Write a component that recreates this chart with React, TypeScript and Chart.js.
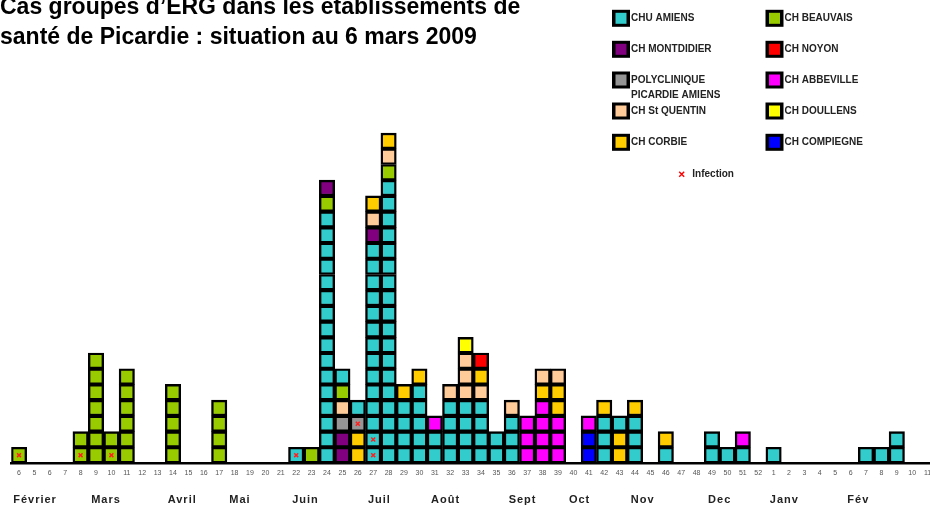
import React, { useEffect, useRef } from 'react';
import { Chart, registerables } from 'chart.js';

Chart.register(...registerables);

const FONT = '"Liberation Sans", Arial, sans-serif';

// Week tick labels (2008 weeks then 2009 weeks), as printed on the chart
const weekLabels = [
  '6', '5', '6', '7', '8', '9', '10', '11', '12', '13', '14', '15', '16', '17', '18', '19', '20', '21', '22', '23',
  '24', '25', '26', '27', '28', '29', '30', '31', '32', '33', '34', '35', '36', '37', '38', '39', '40', '41', '42', '43',
  '44', '45', '46', '47', '48', '49', '50', '51', '52', '1', '2', '3', '4', '5', '6', '7', '8', '9', '10', '11',
];

// Cases per week, stacked bottom-up; one letter = one case (hospital code),
// lowercase letter = case with infection.
const weekCases = [
  'b', '', '', '', 'bB', 'BBBBBBB', 'bB', 'BBBBBB', '', '', 'BBBBB', '', '', 'BBBB', '', '', '', '', 'a', 'B',
  'AAAAAAAAAAAAAAAABM', 'MMPQBA', 'CCpA', 'aaAAAAAAAAAAAAMQC', 'AAAAAAAAAAAAAAAAAABQC', 'AAAAC', 'AAAAAC', 'AAV', 'AAAAQ', 'AAAAQQQD',
  'AAAAQCN', 'AA', 'AAAQ', 'VVV', 'VVVVCQ', 'VVVCCQ', '', 'GGV', 'AAAC', 'CCA',
  'AAAC', '', 'AC', '', '', 'AA', 'A', 'AV', '', 'A', '', '', '', '', '', 'A', 'A', 'AA', '', '',
];

const hospitalCodes = ['A', 'B', 'M', 'N', 'P', 'V', 'Q', 'D', 'C', 'G'];
const hospitalNames = [
  ['CHU AMIENS'], ['CH BEAUVAIS'], ['CH MONTDIDIER'], ['CH NOYON'], ['POLYCLINIQUE', 'PICARDIE AMIENS'],
  ['CH ABBEVILLE'], ['CH St QUENTIN'], ['CH DOULLENS'], ['CH CORBIE'], ['CH COMPIEGNE'],
];
const hospitalColors = ['#33CCCC', '#99CC00', '#800080', '#FF0000', '#969696', '#FF00FF', '#FFCC99', '#FFFF00', '#FFCC00', '#0000FF'];

const monthNames = ['Février', 'Mars', 'Avril', 'Mai', 'Juin', 'Juil', 'Août', 'Sept', 'Oct', 'Nov', 'Dec', 'Janv', 'Fév'];
// position of each month label along the week axis (category index)
const monthAnchors = [1.04, 5.65, 10.6, 14.35, 18.6, 23.4, 27.7, 32.7, 36.4, 40.5, 45.5, 49.7, 54.5];

const titleLines = ['Cas groupés d’ERG dans les établissements de', 'santé de Picardie : situation au 6 mars 2009'];
const infectionLabel = 'Infection';

const colorOf = (ch: string) => hospitalColors[hospitalCodes.indexOf(ch.toUpperCase())];

const decorPlugin = {
  id: 'decor',
  afterDraw(chart: any) {
    const ctx = chart.ctx as CanvasRenderingContext2D;
    const xs = chart.scales.x;
    ctx.save();
    // title
    ctx.fillStyle = '#000';
    ctx.textAlign = 'left';
    ctx.textBaseline = 'alphabetic';
    ctx.font = `bold 23px ${FONT}`;
    titleLines.forEach((t, i) => ctx.fillText(t, 0, 14 + i * 30));

    // legend
    const colX = [621, 774.5];
    const rowY = [18.3, 49.3, 80, 111, 142.3];
    ctx.font = `bold 10px ${FONT}`;
    ctx.textBaseline = 'middle';
    hospitalNames.forEach((lines, i) => {
      const cx = colX[i % 2];
      const cy = rowY[Math.floor(i / 2)];
      ctx.fillStyle = '#000';
      ctx.fillRect(cx - 9, cy - 8.5, 18, 17);
      ctx.fillStyle = hospitalColors[i];
      ctx.fillRect(cx - 5.5, cy - 5.5, 11, 11);
      ctx.fillStyle = '#222';
      lines.forEach((l, j) => ctx.fillText(l, cx + 10, cy + j * 15.7));
    });
    // infection legend
    ctx.strokeStyle = '#f00';
    ctx.lineWidth = 1.4;
    const ix = 681.7, iy = 174.3;
    ctx.beginPath();
    ctx.moveTo(ix - 2.5, iy - 2.5); ctx.lineTo(ix + 2.5, iy + 2.5);
    ctx.moveTo(ix + 2.5, iy - 2.5); ctx.lineTo(ix - 2.5, iy + 2.5);
    ctx.stroke();
    ctx.fillStyle = '#222';
    ctx.fillText(infectionLabel, 692.3, iy);

    // month labels
    ctx.font = `bold 11px ${FONT}`;
    ctx.textAlign = 'center';
    ctx.fillStyle = '#222';
    (ctx as any).letterSpacing = '1px';
    monthNames.forEach((m, i) => {
      ctx.fillText(m, xs.getPixelForValue(monthAnchors[i]), 500);
    });
    ctx.restore();
  },
};

export default function App() {
  const ref = useRef<HTMLCanvasElement>(null);
  useEffect(() => {
    if (!ref.current) return;
    const maxLevel = Math.max(...weekCases.map((s) => s.length));
    const barSets: any[] = [];
    for (let k = 0; k < maxLevel; k++) {
      barSets.push({
        type: 'bar',
        label: 'level' + k,
        data: weekCases.map((s) => (s.length > k ? 1 : null)),
        backgroundColor: weekCases.map((s) => (s.length > k ? colorOf(s[k]) : 'rgba(0,0,0,0)')),
        borderColor: '#000',
        borderWidth: 2.4,
        borderSkipped: false,
        barPercentage: 1,
        categoryPercentage: 1,
        yAxisID: 'y',
        order: 2,
      });
    }
    const infSets: any[] = [];
    for (let k = 0; k < maxLevel; k++) {
      const data = weekCases.map((s) => (s.length > k && s[k] !== s[k].toUpperCase() ? k + 0.5 : null));
      if (data.some((v) => v !== null)) {
        infSets.push({
          type: 'line',
          label: 'inf' + k,
          data,
          showLine: false,
          pointStyle: 'crossRot',
          pointRadius: 2.8,
          pointBorderColor: '#ff2020',
          pointBackgroundColor: '#ff2020',
          pointBorderWidth: 1.5,
          yAxisID: 'yInf',
          order: 1,
        });
      }
    }
    const yMax = 29.12;
    const chart = new Chart(ref.current, {
      type: 'bar',
      data: { labels: weekLabels, datasets: [...barSets, ...infSets] },
      options: {
        responsive: false,
        animation: false,
        devicePixelRatio: 1,
        layout: { padding: { left: 11.3, right: 9.7, top: 0, bottom: 0 } },
        plugins: { legend: { display: false }, tooltip: { enabled: false }, title: { display: false } },
        scales: {
          x: {
            type: 'category',
            stacked: true,
            offset: true,
            grid: { display: false, drawTicks: false },
            border: { display: true, color: '#000', width: 2.5 },
            ticks: { autoSkip: false, maxRotation: 0, minRotation: 0, padding: 6, color: '#555', font: { size: 7, family: FONT } },
            afterFit: (s: any) => { s.height = 44; },
          },
          y: { stacked: true, display: false, min: 0, max: yMax },
          yInf: { display: false, min: 0, max: yMax },
        },
      },
      plugins: [decorPlugin],
    } as any);
    return () => chart.destroy();
  }, []);
  return (
    <div style={{ position: 'fixed', left: 0, top: 0, width: 930, height: 507, overflow: 'hidden', background: '#fff' }}>
      <canvas ref={ref} width={945} height={507} style={{ width: 945, height: 507, display: 'block' }} />
    </div>
  );
}
